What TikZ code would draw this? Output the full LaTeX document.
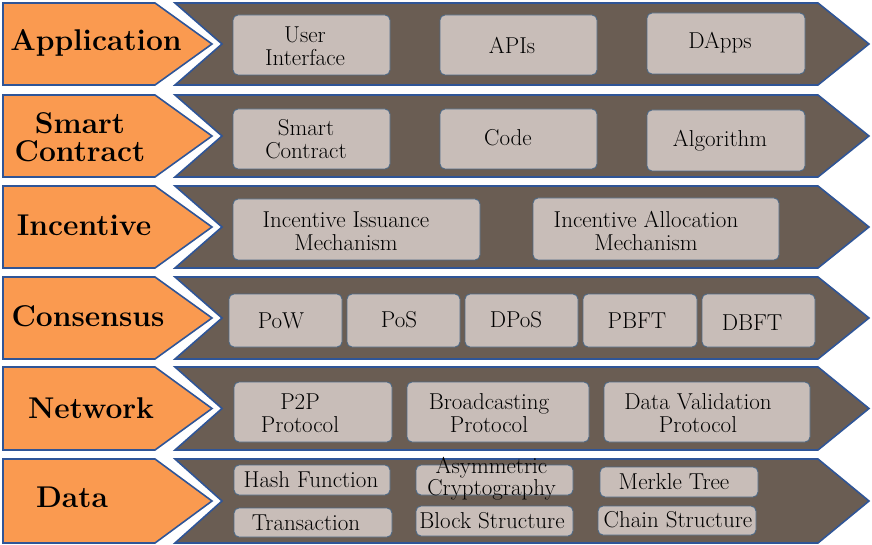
\documentclass[tikz,border=0pt]{standalone}
\usepackage{fontspec}
\begin{document}
\begin{tikzpicture}[x=1pt,y=-1pt,
  layerlabel/.style={fill=orangefill,draw=edgeblue,line width=1.6pt,line join=miter},
  layerbody/.style={fill=brownfill,draw=edgeblue,line width=1.6pt,line join=miter},
  labeltext/.style={font=\fontsize{30}{28}\selectfont\bfseries,align=center,inner sep=0pt,text=black},
  ibox/.style={fill=boxfill,draw=boxedge,line width=0.9pt,rounded corners=5pt,inner sep=0pt},
  itext/.style={align=center,inner sep=0pt,font=\fontsize{23}{23}\selectfont,text=black},
]
\definecolor{orangefill}{HTML}{FA9A50}
\definecolor{brownfill}{HTML}{6A5D53}
\definecolor{edgeblue}{HTML}{2F5597}
\definecolor{boxfill}{HTML}{C8BDB8}
\definecolor{boxedge}{HTML}{4F6A86}
\useasboundingbox (0,0) rectangle (872,545);
% layer shapes
\foreach \t/\b in {3/85,95/177,186/268,277/359,367/450,459/543}{
  \pgfmathsetmacro{\m}{(\t+\b)/2}
  \draw[layerlabel] (3,\t) -- (155,\t) -- (212,\m) -- (155,\b) -- (3,\b) -- cycle;
  \draw[layerbody] (175,\t) -- (818,\t) -- (869,\m) -- (818,\b) -- (175,\b) -- (222,\m) -- cycle;
}
% layer labels
\node[labeltext] (lapp) at (96,43) {Application};
\node[labeltext] (lsc) at (80,137) {Smart\\Contract};
\node[labeltext] (linc) at (84,225) {Incentive};
\node[labeltext] (lcon) at (88,316) {Consensus};
\node[labeltext] (lnet) at (91,408) {Network};
\node[labeltext] (ldat) at (72,497) {Data};
% Application
\node[ibox,minimum width=157,minimum height=60] (ui) at (311.5,45) {};
\node[itext] (uit) at (305,46) {User\\Interface};
\node[ibox,minimum width=157,minimum height=60] (api) at (518.5,45) {};
\node[itext] (apit) at (512,45) {APIs};
\node[ibox,minimum width=158,minimum height=61] (dapp) at (726,43.5) {};
\node[itext] (dappt) at (720,43) {DApps};
% Smart contract
\node[ibox,minimum width=157,minimum height=60] (scb) at (311.5,139) {};
\node[itext] (scbt) at (306,139) {Smart\\Contract};
\node[ibox,minimum width=157,minimum height=60] (code) at (518.5,139) {};
\node[itext] (codet) at (508,138) {Code};
\node[ibox,minimum width=158,minimum height=61] (alg) at (726,140.5) {};
\node[itext] (algt) at (720,141) {Algorithm};
% Incentive
\node[ibox,minimum width=247,minimum height=61] (iss) at (356.5,229.5) {};
\node[itext] (isst) at (346,231) {Incentive Issuance\\Mechanism};
\node[ibox,minimum width=246,minimum height=62] (alloc) at (656,229) {};
\node[itext] (alloct) at (646,231) {Incentive Allocation\\Mechanism};
% Consensus
\node[ibox,minimum width=113,minimum height=53] (pow) at (285.5,320.5) {};
\node[itext] (powt) at (281,321) {PoW};
\node[ibox,minimum width=113,minimum height=53] (pos) at (403.5,320.5) {};
\node[itext] (post) at (399,320) {PoS};
\node[ibox,minimum width=113,minimum height=53] (dpos) at (521.5,320.5) {};
\node[itext] (dpost) at (516,320) {DPoS};
\node[ibox,minimum width=114,minimum height=53] (pbft) at (640,320.5) {};
\node[itext] (pbftt) at (637,321) {PBFT};
\node[ibox,minimum width=113,minimum height=53] (dbft) at (758.5,320.5) {};
\node[itext] (dbftt) at (752,323) {DBFT};
% Network
\node[ibox,minimum width=158,minimum height=60] (p2p) at (313,412) {};
\node[itext] (p2pt) at (300,413) {P2P\\Protocol};
\node[ibox,minimum width=182,minimum height=60] (bc) at (498,412) {};
\node[itext] (bct) at (489,413) {Broadcasting\\Protocol};
\node[ibox,minimum width=206,minimum height=60] (dv) at (707,412) {};
\node[itext] (dvt) at (698,413) {Data Validation\\Protocol};
% Data
\node[ibox,minimum width=156,minimum height=30] (hash) at (312,480) {};
\node[itext] (hasht) at (311,480) {Hash Function};
\node[ibox,minimum width=158,minimum height=29] (trans) at (313,522.5) {};
\node[itext] (transt) at (306,523) {Transaction};
\node[ibox,minimum width=157,minimum height=30] (asym) at (494.5,480) {};
\node[itext,font=\fontsize{23}{13}\selectfont] (asymt) at (491.5,479) {Asymmetric\\Cryptography};
\node[ibox,minimum width=157,minimum height=30] (block) at (494.5,521) {};
\node[itext] (blockt) at (492,521) {Block Structure};
\node[ibox,minimum width=158,minimum height=30] (merkle) at (679,482) {};
\node[itext] (merklet) at (674,482) {Merkle Tree};
\node[ibox,minimum width=158,minimum height=29] (chain) at (677,520.5) {};
\node[itext] (chaint) at (678,520) {Chain Structure};
\end{tikzpicture}
\end{document}
